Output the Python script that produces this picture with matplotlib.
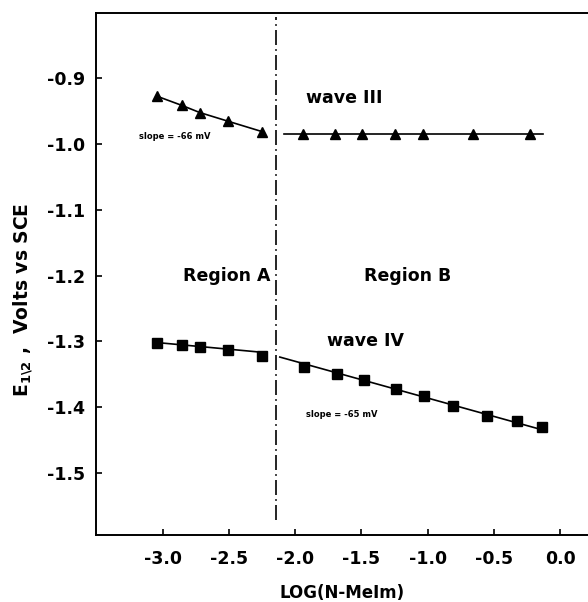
import matplotlib
matplotlib.use("Agg")
import numpy as np
import matplotlib.pyplot as plt

plt.rcParams['font.family'] = ['DejaVu Sans']
plt.rcParams['mathtext.fontset'] = 'dejavusans'
plt.rcParams['mathtext.default'] = 'bf'

# wave III (triangles), region A
w3a_x = [-3.045, -2.857, -2.72, -2.51, -2.25]
w3a_y = [-0.927, -0.941, -0.952, -0.965, -0.981]
# wave III, region B
w3b_x = [-1.943, -1.70, -1.497, -1.248, -1.036, -0.659, -0.228]
w3b_y = [-0.985, -0.985, -0.985, -0.985, -0.985, -0.985, -0.985]
w3b_line_x = [-2.086, -0.13]
w3b_line_y = [-0.985, -0.985]

# wave IV (squares), region A
w4a_x = [-3.04, -2.857, -2.72, -2.51, -2.25]
w4a_y = [-1.303, -1.306, -1.309, -1.313, -1.322]
w4a_line_x = [-3.04, -2.29]
w4a_line_y = [-1.302, -1.316]
# wave IV, region B
w4b_x = [-1.935, -1.686, -1.482, -1.240, -1.029, -0.810, -0.553, -0.326, -0.137]
w4b_y = [-1.3385, -1.350, -1.359, -1.372, -1.383, -1.398, -1.414, -1.421, -1.430]
w4b_line_x = [-2.116, -0.13]
w4b_line_y = [-1.324, -1.435]

boundary_x = -2.147

xticks = [-3.0, -2.5, -2.0, -1.5, -1.0, -0.5, 0.0]
yticks = [-0.9, -1.0, -1.1, -1.2, -1.3, -1.4, -1.5]

fig = plt.figure(figsize=(5.88, 6.02), dpi=100)
ax = fig.add_axes([0.164, 0.111, 0.836, 0.868])

lw = 1.2
ax.plot(w3a_x, w3a_y, color='black', lw=lw, marker='^', ms=7.5)
ax.plot(w3b_line_x, w3b_line_y, color='black', lw=lw)
ax.plot(w3b_x, w3b_y, color='black', lw=0, marker='^', ms=7)
ax.plot(w4a_line_x, w4a_line_y, color='black', lw=lw)
ax.plot(w4a_x, w4a_y, color='black', lw=0, marker='s', ms=6.5)
ax.plot(w4b_line_x, w4b_line_y, color='black', lw=lw)
ax.plot(w4b_x, w4b_y, color='black', lw=0, marker='s', ms=6.5)

# boundary between region A and region B
ax.axvline(boundary_x, ymin=0.029, ymax=0.992, color='black', lw=1.2,
           dashes=(9, 2.5, 1, 2.5))

ax.set_xlim(-3.5, 0.21)
ax.set_ylim(-1.595, -0.8)
ax.set_xticks(xticks)
ax.set_yticks(yticks)
ax.set_xticklabels([f"{v:.1f}" for v in xticks])
ax.set_yticklabels([f"{v:.1f}" for v in yticks])
ax.tick_params(direction='in', length=4, width=1.2, labelsize=12.5, pad=8)
for lab in ax.get_xticklabels() + ax.get_yticklabels():
    lab.set_fontweight('bold')
ax.tick_params(axis='x', pad=11)
ax.spines['right'].set_visible(False)
for s in ['left', 'top', 'bottom']:
    ax.spines[s].set_linewidth(1.4)

ax.set_xlabel('LOG(N-MeIm)', fontsize=12, fontweight='bold', va='center')
ax.xaxis.set_label_coords(0.5, -0.111)
ax.set_ylabel(r'E$_{1\backslash2}$ ,  Volts vs SCE', fontsize=13.5,
              fontweight='bold', va='center', ha='center')
ax.yaxis.set_label_coords(-0.15, 0.45)

ax.text(-2.85, -1.2, 'Region A', fontsize=12.5, fontweight='bold', va='center')
ax.text(-1.48, -1.2, 'Region B', fontsize=12.5, fontweight='bold', va='center')
ax.text(-1.92, -0.93, 'wave III', fontsize=12.5, fontweight='bold', va='center')
ax.text(-1.76, -1.299, 'wave IV', fontsize=12.5, fontweight='bold', va='center')
ax.text(-3.18, -0.988, 'slope = -66 mV', fontsize=6, fontweight='bold', va='center')
ax.text(-1.92, -1.411, 'slope = -65 mV', fontsize=6, fontweight='bold', va='center')

fig.savefig('out.png', dpi=100)
